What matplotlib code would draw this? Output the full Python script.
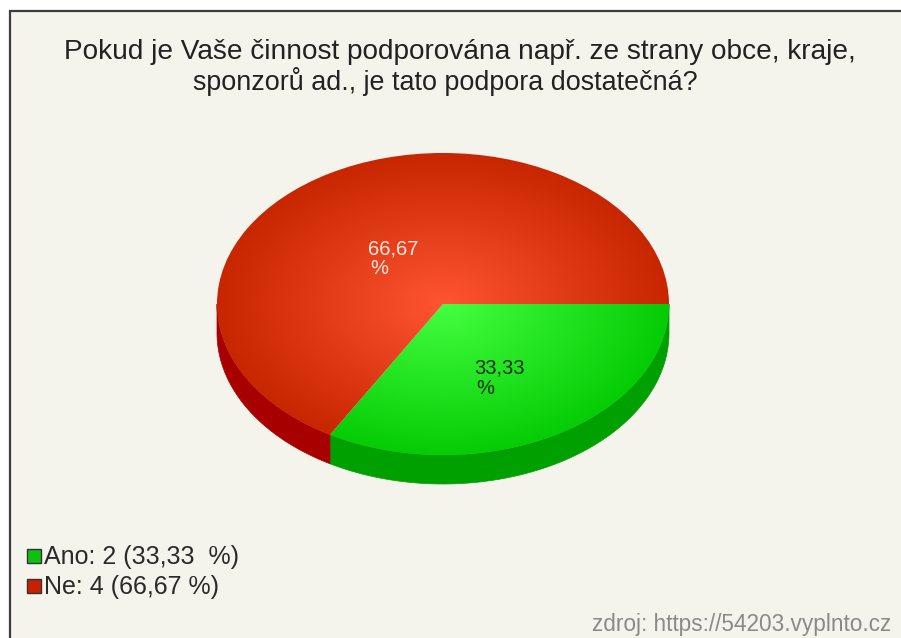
#%% pie chart, 3D look with radial gradient
from matplotlib import pyplot as plt
from matplotlib.patches import Polygon, Rectangle, Wedge
from matplotlib.transforms import Affine2D
import numpy as np

plt.rcParams['font.family'] = ['Liberation Sans', 'DejaVu Sans']

labels = ["Ano", "Ne"]
counts = [2, 4]
percent_text = ["33,33", "66,67"]
legend_text = ["Ano: 2 (33,33  %)", "Ne: 4 (66,67 %)"]
title_lines = ["Pokud je Vaše činnost podporována např. ze strany obce, kraje,",
               "sponzorů ad., je tato podpora dostatečná?"]
source = "zdroj: https://54203.vyplnto.cz"

# colours: centre of top, rim of top, side
inner = [(0.27, 1.0, 0.25), (1.0, 0.33, 0.2)]
outer = [(0.02, 0.80, 0.02), (0.78, 0.15, 0.0)]
side = ["#00a000", "#a80000"]
legend_col = ["#10c010", "#c82000"]
bg = "#f4f3ec"

cx, cy, rx, ry, depth = 443, 304, 226, 151, 29

fig = plt.figure(figsize=(9.01, 6.38), dpi=100)
ax = fig.add_axes([0, 0, 1, 1])
ax.set_xlim(0, 901)
ax.set_ylim(638, 0)
ax.axis("off")

# panel
ax.add_patch(Rectangle((9.5, 10.5), 900, 640, fc=bg, ec="#3c3c3c", lw=1.6))

fractions = np.array(counts) / sum(counts)
edges = np.concatenate([[0], np.cumsum(fractions) * 360])
to_pie = Affine2D().scale(rx, ry).translate(cx, cy) + ax.transData

# side wall first, only the front half (0-180 deg) shows
for i in range(len(counts)):
    t = np.radians(np.linspace(edges[i], min(edges[i + 1], 180), 80))
    x = cx + rx * np.cos(t)
    y = cy + ry * np.sin(t)
    pts = np.r_[np.c_[x, y], np.c_[x, y + depth][::-1]]
    ax.add_patch(Polygon(pts, fc=side[i], ec=side[i], lw=0.5))

# top with radial gradient clipped to each wedge
yy, xx = np.mgrid[-1:1:400j, -1:1:600j]
r = np.clip(np.sqrt(xx**2 + yy**2), 0, 1)[..., None]
for i in range(len(counts)):
    w = Wedge((0, 0), 1, edges[i], edges[i + 1], transform=to_pie, fc="none", ec="none")
    ax.add_patch(w)
    img = np.array(inner[i]) * (1 - r) + np.array(outer[i]) * r
    im = ax.imshow(img, extent=(cx - rx, cx + rx, cy + ry, cy - ry), aspect="auto",
                   interpolation="bilinear", zorder=2)
    im.set_clip_path(w)
ax.set_xlim(0, 901)
ax.set_ylim(638, 0)

# percent labels
ax.text(474, 368, percent_text[0], fontsize=14.5, color="#103010", va="center", zorder=3)
ax.text(476, 389, "%", fontsize=14.5, color="#103010", va="center", zorder=3)
ax.text(368, 249, percent_text[1], fontsize=14.5, color="#ffe8e0", va="center", zorder=3)
ax.text(370, 269, "%", fontsize=14.5, color="#ffe8e0", va="center", zorder=3)

# title
ax.text(460, 52, title_lines[0], fontsize=20.15, color="#222222", ha="center", va="center")
ax.text(445.5, 82, title_lines[1], fontsize=19.4, color="#222222", ha="center", va="center")

# legend
for i, ly in enumerate([556, 586]):
    ax.add_patch(Rectangle((27, ly - 7), 14, 14, fc=legend_col[i], ec="#333333", lw=1))
    ax.text(44, ly + 1, legend_text[i], fontsize=18, color="#2a2a2a", va="center")

ax.text(891, 625, source, fontsize=16.3, color="#8a8a8a", ha="right", va="center")

fig.savefig("out.png", dpi=100)
